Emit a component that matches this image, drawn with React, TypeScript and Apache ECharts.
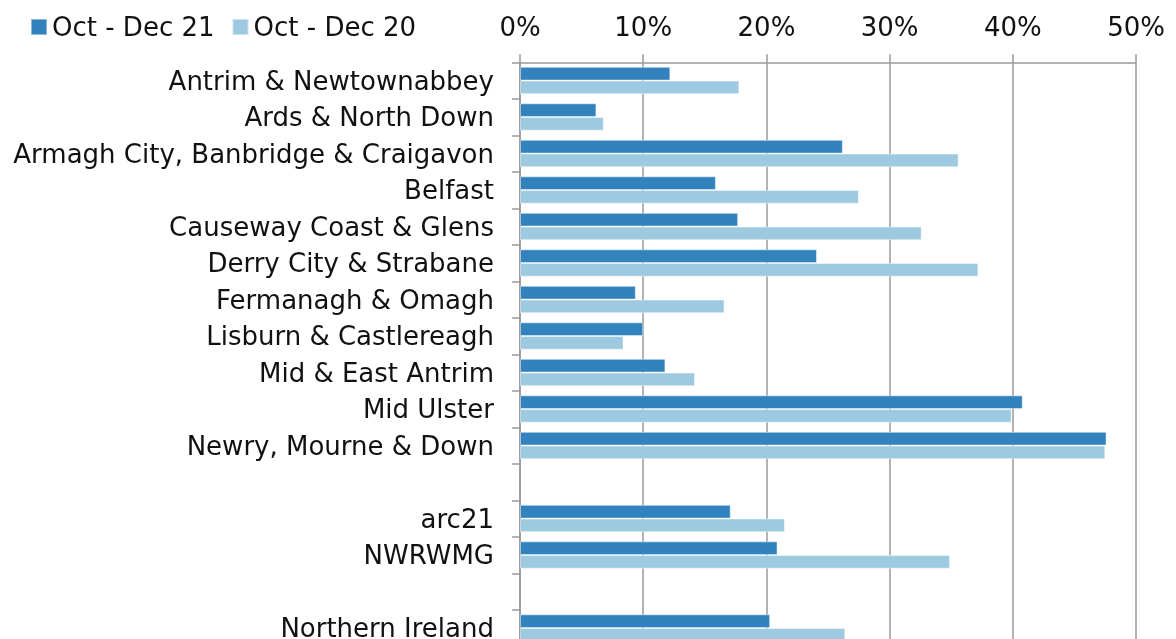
import React, { useEffect, useRef } from "react";
import * as echarts from "echarts";

const categories = [
  "Antrim & Newtownabbey",
  "Ards & North Down",
  "Armagh City, Banbridge & Craigavon",
  "Belfast",
  "Causeway Coast & Glens",
  "Derry City & Strabane",
  "Fermanagh & Omagh",
  "Lisburn & Castlereagh",
  "Mid & East Antrim",
  "Mid Ulster",
  "Newry, Mourne & Down",
  " ",
  "arc21",
  "NWRWMG",
  "  ",
  "Northern Ireland",
];

const octDec21 = [12.2, 6.2, 26.2, 15.9, 17.7, 24.1, 9.4, 10.0, 11.8, 40.8, 47.6, null, 17.1, 20.9, null, 20.3];
const octDec20 = [17.8, 6.8, 35.6, 27.5, 32.6, 37.2, 16.6, 8.4, 14.2, 39.9, 47.5, null, 21.5, 34.9, null, 26.4];

const seriesNames = ["Oct - Dec 21", "Oct - Dec 20"];
const xTicks = { min: 0, max: 50, interval: 10 };

const FONT = "DejaVu Sans, Liberation Sans, Arial, sans-serif";
const GRAY = "#9a9a9a";

export default function App() {
  const ref = useRef<HTMLDivElement>(null);
  useEffect(() => {
    if (!ref.current) return;
    const chart = echarts.init(ref.current, undefined, { renderer: "svg" });
    chart.setOption({
      animation: false,
      textStyle: { fontFamily: FONT },
      legend: {
        left: 17,
        top: 1,
        itemWidth: 16,
        itemHeight: 16,
        itemGap: 17,
        icon: "rect",
        textStyle: { fontSize: 26, color: "#111", fontFamily: FONT, lineHeight: 26 },
        data: seriesNames,
      },
      grid: { left: 512, right: 29.5, top: 54.3, height: 584, containLabel: false },
      xAxis: {
        type: "value",
        position: "top",
        min: xTicks.min,
        max: xTicks.max,
        interval: xTicks.interval,
        axisLine: { show: true, lineStyle: { color: GRAY, width: 1.5 } },
        axisTick: { show: true, inside: false, length: 8, lineStyle: { color: GRAY, width: 1.5 } },
        splitLine: { show: true, lineStyle: { color: GRAY, width: 1.5 } },
        axisLabel: { formatter: "{value}%", fontSize: 26, color: "#111", margin: 22, fontFamily: FONT },
      },
      yAxis: {
        type: "category",
        inverse: true,
        data: categories,
        axisLine: { show: true, lineStyle: { color: GRAY, width: 1.5 } },
        axisTick: { show: true, inside: false, length: 8, alignWithLabel: false, lineStyle: { color: GRAY, width: 1.5 } },
        axisLabel: { fontSize: 26, color: "#111", margin: 26, fontFamily: FONT, interval: 0 },
        splitLine: { show: false },
      },
      series: [
        {
          name: seriesNames[0],
          type: "bar",
          data: octDec21,
          barGap: "0%",
          barCategoryGap: "25%",
          itemStyle: { color: "#3182bd", borderColor: "rgba(255,255,255,0.45)", borderWidth: 1 },
        },
        {
          name: seriesNames[1],
          type: "bar",
          data: octDec20,
          barGap: "0%",
          barCategoryGap: "25%",
          itemStyle: { color: "#9ecae1", borderColor: "rgba(255,255,255,0.45)", borderWidth: 1 },
        },
      ],
    });
    return () => chart.dispose();
  }, []);
  return (
    <div style={{ position: "fixed", top: 8, left: 8, width: 1160, height: 631, overflow: "hidden" }}>
      <div ref={ref} style={{ width: 1160, height: 700 }} />
    </div>
  );
}
